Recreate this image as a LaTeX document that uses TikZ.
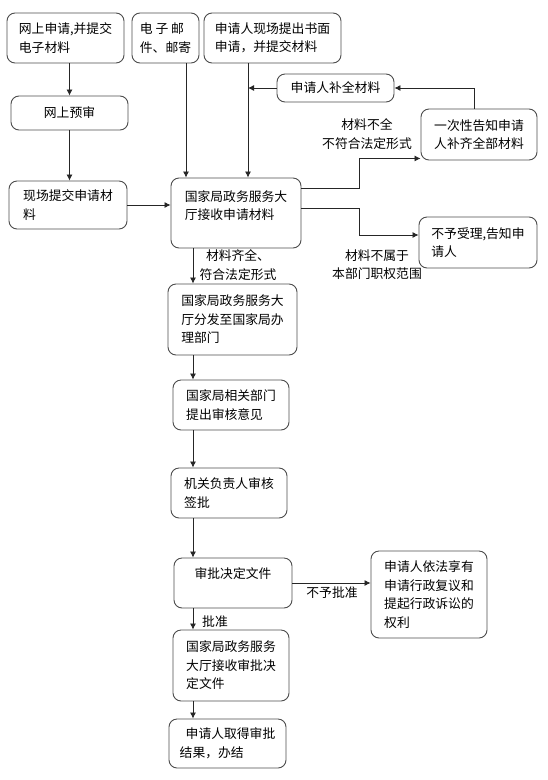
\documentclass[tikz,border=0pt]{standalone}
\usepackage{fontspec}
\setmainfont{Noto Sans CJK SC}
\usetikzlibrary{arrows.meta}

\begin{document}
\begin{tikzpicture}[x=1pt, y=-1pt, >={Latex[length=6pt,width=6pt]},
    font=\fontsize{12.8}{18.5}\selectfont,
    box/.style={draw=black!70, line width=0.9pt, rounded corners=8pt, align=left, inner xsep=8pt, inner ysep=4pt},
    note/.style={align=center, inner sep=0pt},
    link/.style={draw=black!85, line width=0.8pt}]
    \useasboundingbox (0,0) rectangle (547,780);

    % Nodes
    \node[box, minimum width=117pt, minimum height=50pt] (online) at (65.5,38) {网上申请,并提交\\电子材料};
    \node[box, inner xsep=6pt, minimum width=67pt, minimum height=50pt] (mail) at (165.5,38) {电 子 邮\\件、邮寄};
    \node[box, minimum width=137pt, minimum height=50pt] (written) at (272.5,38) {申请人现场提出书面\\申请，并提交材料};
    \node[box, minimum width=117pt, minimum height=28pt] (supplement) at (335.5,88) {申请人补全材料};
    \node[box, minimum width=116pt, minimum height=51pt] (notify) at (479,134.5) {一次性告知申请\\人补齐全部材料};
    \node[box, minimum width=117pt, minimum height=34pt] (precheck) at (69.5,113) {网上预审};
    \node[box, minimum width=118pt, minimum height=48pt] (onsite) at (68,205) {现场提交申请材\\料};
    \node[box, minimum width=130pt, minimum height=70pt, text height=29.5pt, text depth=16.5pt] (receive) at (236,213) {国家局政务服务大\\厅接收申请材料};
    \node[box, minimum width=118pt, minimum height=51pt] (reject) at (478,242.5) {不予受理,告知申\\请人};
    \node[box, minimum width=129pt, minimum height=71pt] (dispatch) at (232.5,319.5) {国家局政务服务大\\厅分发至国家局办\\理部门};
    \node[box, minimum width=116pt, minimum height=50pt] (opinion) at (231,405) {国家局相关部门\\提出审核意见};
    \node[box, minimum width=116pt, minimum height=50pt] (sign) at (229,493) {机关负责人审核\\签批};
    \node[box, minimum width=118pt, minimum height=50pt, text height=11pt, text depth=21pt] (decide) at (233,583) {审批决定文件};
    \node[box, minimum width=116pt, minimum height=87pt] (rights) at (429,594.5) {申请人依法享有\\申请行政复议和\\提起行政诉讼的\\权利};
    \node[box, minimum width=116pt, minimum height=71pt] (deliver) at (231,665.5) {国家局政务服务\\大厅接收审批决\\定文件};
    \node[box, minimum width=117pt, minimum height=49pt] (finish) at (227.5,743.5) {\hspace{6pt}申请人取得审批\\结果，办结};

    % Labels
    \node[note] (incomplete) at (367,134) {材料不全\\不符合法定形式};
    \node[note] (outscope) at (377,264.5) {材料不属于\\本部门职权范围};
    \node[note] (complete) at (238,265) {材料齐全、\\符合法定形式};
    \node[note] (refuse) at (332,593) {不予批准};
    \node[note] (approve) at (215,622) {批准};

    % Edges
    \coordinate (spine) at (193,0);
    \draw[link,->] (precheck.north |- online.south) -- (precheck.north);
    \draw[link,->] (precheck.south) -- (precheck.south |- onsite.north);
    \draw[link,->] (onsite.east) -- (onsite.east -| receive.west);
    \draw[link,->] ([xshift=20.5pt]mail.south) -- ([xshift=20.5pt]mail.south |- receive.north);
    \draw[link,->] ([xshift=-24.5pt]written.south) -- ([xshift=-24.5pt]written.south |- receive.north);
    \draw[link,->] (supplement.west) -- ([xshift=-24.5pt]written.south |- supplement.west);
    \draw[link,->] ([xshift=-5pt]notify.north) |- (supplement.east);
    \draw[link,->] ([yshift=25pt]receive.east) -- ++(58,0) |- ([yshift=2pt]notify.south west);
    \draw[link,->] ([yshift=5pt]receive.east) -- ++(58,0) |- ([yshift=7.5pt]reject.west);
    \draw[link,->] (spine |- receive.south) -- (spine |- dispatch.north);
    \draw[link,->] (spine |- dispatch.south) -- (spine |- opinion.north);
    \draw[link,->] (spine |- opinion.south) -- (spine |- sign.north);
    \draw[link,->] (spine |- sign.south) -- (spine |- decide.north);
    \draw[link,->] (decide.east) -- (decide.east -| rights.west);
    \draw[link,->] (spine |- decide.south) -- (spine |- deliver.north);
    \draw[link,->] (spine |- deliver.south) -- (spine |- finish.north);
\end{tikzpicture}
\end{document}
